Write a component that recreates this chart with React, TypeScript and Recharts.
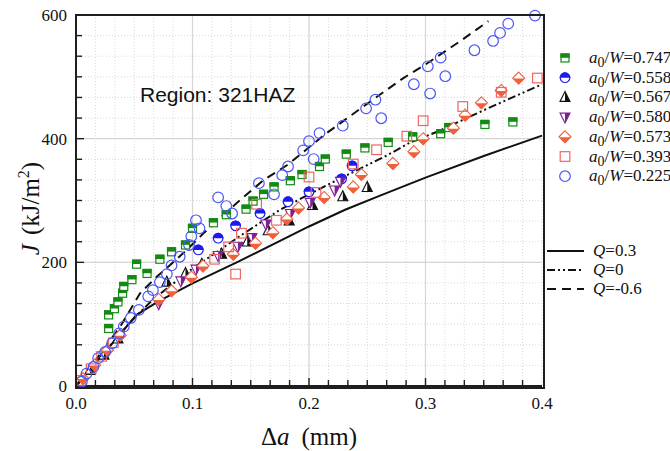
import React from "react"
import {
  ComposedChart,
  Scatter,
  Line,
  XAxis,
  YAxis,
  CartesianGrid,
  ReferenceLine,
  Legend,
  Label,
} from "recharts"

// measured points [Δa (mm), J (kJ/m2)]
const s747 = [[0.028,93],[0.028,115],[0.033,125],[0.036,136],[0.040,150],[0.041,161],[0.048,172],[0.052,197],[0.061,182],[0.072,205],[0.082,217],[0.094,228],[0.100,255],[0.118,264],[0.129,277],[0.146,286],[0.152,299],[0.161,310],[0.170,322],[0.184,332],[0.194,342],[0.209,355],[0.214,367],[0.232,375],[0.248,385],[0.268,394],[0.289,403],[0.313,408],[0.320,418],[0.351,423],[0.375,427]]
const s558 = [[0.105,220],[0.122,239],[0.137,259],[0.158,279],[0.182,298],[0.200,314],[0.228,335],[0.237,356]]
const s567 = [[0.012,25],[0.024,50],[0.036,76],[0.078,168],[0.094,182],[0.108,197],[0.125,213],[0.147,233],[0.165,251],[0.183,267],[0.203,292],[0.229,306],[0.250,321]]
const s580 = [[0.071,133],[0.090,170],[0.103,189],[0.122,211],[0.139,226],[0.151,240],[0.163,262],[0.184,279],[0.201,297],[0.222,317],[0.227,331]]
const s573 = [[0.006,12],[0.016,34],[0.027,58],[0.038,82],[0.071,140],[0.082,154],[0.099,176],[0.109,194],[0.135,213],[0.154,231],[0.169,248],[0.181,270],[0.191,288],[0.213,305],[0.238,322],[0.245,342],[0.272,360],[0.290,379],[0.298,400],[0.324,417],[0.334,438],[0.348,458],[0.365,478],[0.380,498]]
const s393 = [[0.004,9],[0.013,28],[0.022,48],[0.032,70],[0.119,205],[0.131,225],[0.137,181],[0.142,247],[0.155,294],[0.172,268],[0.200,338],[0.206,313],[0.238,359],[0.258,382],[0.284,404],[0.298,429],[0.332,452],[0.365,475],[0.396,498]]
const s225 = [[0.005,7],[0.009,20],[0.015,31],[0.019,45],[0.025,55],[0.031,69],[0.037,85],[0.041,96],[0.047,110],[0.054,123],[0.062,145],[0.066,155],[0.072,168],[0.078,181],[0.082,195],[0.089,209],[0.097,228],[0.099,242],[0.103,268],[0.106,255],[0.122,305],[0.129,291],[0.134,279],[0.157,328],[0.170,310],[0.177,341],[0.182,355],[0.195,381],[0.200,396],[0.204,367],[0.209,409],[0.229,421],[0.249,449],[0.257,463],[0.262,433],[0.290,488],[0.302,517],[0.304,473],[0.313,531],[0.317,501],[0.342,543],[0.358,558],[0.364,571],[0.371,586],[0.394,599]]

// model curves
const lineQ03 = [[0,0],[0.052,115],[0.07,136],[0.089,155],[0.1,166],[0.138,200],[0.2,258],[0.231,285],[0.261,308],[0.3,337],[0.35,372],[0.4,405]]
const lineQ0 = [[0,0],[0.045,100],[0.066,140],[0.1,190],[0.125,222],[0.138,239],[0.175,285],[0.2,310],[0.224,333],[0.268,374],[0.287,394],[0.311,412],[0.35,446],[0.4,488]]
const lineQm06 = [[0,0],[0.015,37],[0.038,96],[0.055,150],[0.07,178],[0.081,196],[0.095,220],[0.11,248],[0.124,272],[0.138,296],[0.161,333],[0.181,357],[0.195,378],[0.213,406],[0.232,432],[0.257,466],[0.281,498],[0.3,520],[0.33,558],[0.354,590]]

const xMajor = [0, 0.1, 0.2, 0.3, 0.4]
const yMajor = [0, 200, 400, 600]
const minorSteps = 6

const toPts = (arr: number[][]) => arr.map(([x, y]) => ({ x, y }))

const xTicks: number[] = []
for (let i = 0; i <= (xMajor.length - 1) * minorSteps; i++) xTicks.push(+(i * 0.1 / minorSteps).toFixed(5))
const yTicks: number[] = []
for (let i = 0; i <= (yMajor.length - 1) * minorSteps; i++) yTicks.push(+(i * 200 / minorSteps).toFixed(3))

const isMajorX = (v: number) => Math.abs(v * 10 - Math.round(v * 10)) < 1e-6
const isMajorY = (v: number) => Math.abs(v / 200 - Math.round(v / 200)) < 1e-6

// chart box
const W = 670
const H = 451
const M = { top: 15, right: 128, bottom: 15, left: 16 }
const Y_AXIS_W = 60
const X_AXIS_H = 50
const plot = {
  x: M.left + Y_AXIS_W,
  y: M.top,
  w: W - M.left - Y_AXIS_W - M.right,
  h: H - M.top - M.bottom - X_AXIS_H,
}

const serif = "'Liberation Serif', 'Times New Roman', serif"
const ink = "#1e1e1e"

const C = {
  green: "#138a13",
  blueHalf: "#1c1cf0",
  black: "#111",
  purple: "#7d2090",
  orange: "#f0603c",
  red: "#f06464",
  blue: "#4b57f2",
}

function drawMarker(kind: string, cx: number, cy: number) {
  switch (kind) {
    case "halfSquare":
      return (
        <g>
          <rect x={cx - 4} y={cy - 4} width={8} height={8} fill="#fff" stroke={C.green} strokeWidth={1.2} />
          <rect x={cx - 4.6} y={cy - 4.6} width={9.2} height={4.4} fill={C.green} />
        </g>
      )
    case "halfCircle":
      return (
        <g>
          <circle cx={cx} cy={cy} r={4.8} fill="#fff" stroke={C.blueHalf} strokeWidth={1.2} />
          <path d={`M${cx - 5.4},${cy} A5.4,5.4 0 0 1 ${cx + 5.4},${cy} Z`} fill={C.blueHalf} />
        </g>
      )
    case "triUp":
      return (
        <g>
          <polygon points={`${cx},${cy - 6} ${cx - 5},${cy + 4} ${cx + 5},${cy + 4}`} fill="#fff" stroke={C.black} strokeWidth={1.1} />
          <polygon points={`${cx},${cy - 6} ${cx + 5},${cy + 4} ${cx},${cy + 4}`} fill={C.black} />
        </g>
      )
    case "triDown":
      return (
        <g>
          <polygon points={`${cx - 5},${cy - 4} ${cx + 5},${cy - 4} ${cx},${cy + 6}`} fill="#fff" stroke={C.purple} strokeWidth={1.1} />
          <polygon points={`${cx},${cy - 4} ${cx + 5},${cy - 4} ${cx},${cy + 6}`} fill={C.purple} />
        </g>
      )
    case "diamond":
      return (
        <g>
          <polygon points={`${cx},${cy - 6} ${cx + 6},${cy} ${cx},${cy + 6} ${cx - 6},${cy}`} fill="#fff" stroke={C.orange} strokeWidth={1.1} />
          <polygon points={`${cx - 6},${cy + 0.5} ${cx + 6},${cy + 0.5} ${cx},${cy + 6.5}`} fill={C.orange} />
        </g>
      )
    case "square":
      return <rect x={cx - 4.8} y={cy - 4.8} width={9.6} height={9.6} fill="none" stroke={C.red} strokeWidth={1.2} />
    default:
      return <circle cx={cx} cy={cy} r={5.3} fill="none" stroke={C.blue} strokeWidth={1.2} />
  }
}

const shapeOf = (kind: string) => (p: any) => drawMarker(kind, p.cx, p.cy)

const scatterSeries = [
  { id: "0.747", data: s747, kind: "halfSquare" },
  { id: "0.558", data: s558, kind: "halfCircle" },
  { id: "0.567", data: s567, kind: "triUp" },
  { id: "0.580", data: s580, kind: "triDown" },
  { id: "0.573", data: s573, kind: "diamond" },
  { id: "0.393", data: s393, kind: "square" },
  { id: "0.225", data: s225, kind: "circle" },
]

const lineSeries = [
  { id: "0.3", data: lineQ03, dash: undefined },
  { id: "0", data: lineQ0, dash: "8 3 2 3 2 3" },
  { id: "-0.6", data: lineQm06, dash: "9 6" },
]

function XTick(props: any) {
  const { x, y, payload } = props
  const v = payload.value
  if (!isMajorX(v)) return <g />
  return (
    <text x={x} y={y} dy="0.72em" textAnchor="middle" fontFamily={serif} fontSize={17} fill="#111">
      {v.toFixed(1)}
    </text>
  )
}

function YTick(props: any) {
  const { x, y, payload } = props
  const v = payload.value
  if (!isMajorY(v)) return <g />
  return (
    <text x={x} y={y} dy="0.35em" textAnchor="end" fontFamily={serif} fontSize={17} fill="#111">
      {v}
    </text>
  )
}

function YTitle(props: any) {
  const { viewBox } = props
  const cx = viewBox.x + 23
  const cy = viewBox.y + viewBox.height / 2 + 8
  return (
    <text x={cx} y={cy} transform={`rotate(-90, ${cx}, ${cy})`} textAnchor="middle" fontFamily={serif} fontSize={25} fill="#111">
      <tspan fontStyle="italic">J</tspan>
      <tspan dx={9}>(kJ/m</tspan>
      <tspan dy={-10} fontSize={16}>2</tspan>
      <tspan dy={10}>)</tspan>
    </text>
  )
}

function XTitle(props: any) {
  const { viewBox } = props
  const cx = viewBox.x + viewBox.width / 2
  return (
    <text x={cx} y={viewBox.y + 59} textAnchor="middle" fontFamily={serif} fontSize={25} fill="#111">
      <tspan>Δ</tspan>
      <tspan fontStyle="italic">a</tspan>
      <tspan dx={12}>(mm)</tspan>
    </text>
  )
}

function LegendBox() {
  return (
    <svg width={125} height={270} style={{ display: "block" }}>
      {scatterSeries.map((s, i) => {
        const y = 18 + i * 19.7
        return (
          <g key={s.id}>
            {drawMarker(s.kind, 20, y)}
            <text x={44} y={y + 5} fontFamily={serif} fontSize={17} fill="#111">
              <tspan fontStyle="italic">a</tspan>
              <tspan fontSize={14} dy={4}>0</tspan>
              <tspan dy={-4}>/</tspan>
              <tspan fontStyle="italic">W</tspan>
              <tspan>={s.id}</tspan>
            </text>
          </g>
        )
      })}
      {lineSeries.map((l, i) => {
        const y = 211 + i * 19
        return (
          <g key={l.id}>
            <line x1={2} x2={39} y1={y} y2={y} stroke="#111" strokeWidth={2} strokeDasharray={l.dash} />
            <text x={48} y={y + 5} fontFamily={serif} fontSize={17} fill="#111">
              <tspan fontStyle="italic">Q</tspan>
              <tspan>={l.id}</tspan>
            </text>
          </g>
        )
      })}
    </svg>
  )
}

// inward tick marks, laid over the plot box
function TickMarks() {
  const px = (v: number) => plot.x + (v / 0.4) * plot.w
  const py = (v: number) => plot.y + plot.h - (v / 600) * plot.h
  return (
    <svg width={W} height={H} style={{ position: "absolute", left: 0, top: 0, pointerEvents: "none", zIndex: 4 }}>
      {xTicks.filter((v) => v > 0 && v < 0.4).map((v) => (
        <path key={"x" + v} d={`M${px(v)},${plot.y + plot.h} v${-(isMajorX(v) ? 8 : 6)}`} stroke={ink} strokeWidth={1.4} fill="none" />
      ))}
      {yTicks.filter((v) => v > 0 && v < 600).map((v) => (
        <path key={"y" + v} d={`M${plot.x},${py(v)} h${isMajorY(v) ? 8 : 6}`} stroke={ink} strokeWidth={1.4} fill="none" />
      ))}
    </svg>
  )
}

export default function App() {
  return (
    <div style={{ position: "absolute", left: 0, top: 0, width: W, height: H, background: "#fff" }}>
      <ComposedChart width={W} height={H} margin={M}>
        <CartesianGrid stroke="#dadada" strokeDasharray="1 2" />
        <XAxis
          type="number"
          dataKey="x"
          domain={[0, 0.4]}
          ticks={xTicks}
          interval={0}
          height={X_AXIS_H}
          tickSize={0}
          tickMargin={11}
          tickLine={false}
          axisLine={{ stroke: ink, strokeWidth: 2 }}
          tick={(p: any) => <XTick {...p} />}
        >
          <Label content={(p: any) => <XTitle {...p} />} />
        </XAxis>
        <YAxis
          type="number"
          dataKey="y"
          domain={[0, 600]}
          ticks={yTicks}
          interval={0}
          width={Y_AXIS_W}
          tickSize={0}
          tickMargin={9}
          tickLine={false}
          axisLine={{ stroke: ink, strokeWidth: 2 }}
          tick={(p: any) => <YTick {...p} />}
        >
          <Label content={(p: any) => <YTitle {...p} />} />
        </YAxis>
        {xMajor.slice(1, -1).map((v) => (
          <ReferenceLine key={"vx" + v} x={v} stroke="#d6d6d6" strokeWidth={1.2} />
        ))}
        {yMajor.slice(1, -1).map((v) => (
          <ReferenceLine key={"hy" + v} y={v} stroke="#d6d6d6" strokeWidth={1.2} />
        ))}
        {scatterSeries.map((s) => (
          <Scatter key={s.id} data={toPts(s.data)} shape={shapeOf(s.kind)} isAnimationActive={false} />
        ))}
        {lineSeries.map((l) => (
          <Line
            key={l.id}
            data={toPts(l.data)}
            dataKey="y"
            type="linear"
            stroke="#111"
            strokeWidth={2}
            strokeDasharray={l.dash}
            dot={false}
            activeDot={false}
            isAnimationActive={false}
          />
        ))}
        <Legend
          layout="vertical"
          align="center"
          verticalAlign="middle"
          content={() => <LegendBox />}
          wrapperStyle={{ left: 545, top: 40, width: 125, height: 270 }}
        />
      </ComposedChart>
      <TickMarks />
      {/* plot frame */}
      <div
        style={{
          position: "absolute",
          left: plot.x - 1,
          top: plot.y - 1,
          width: plot.w,
          height: plot.h,
          border: `2px solid ${ink}`,
          pointerEvents: "none",
          zIndex: 5,
        }}
      />
      <div
        style={{
          position: "absolute",
          left: 140,
          top: 84,
          fontFamily: "'Liberation Sans', Arial, sans-serif",
          fontSize: 21,
          lineHeight: 1,
          color: "#111",
          whiteSpace: "nowrap",
        }}
      >
        Region: 321HAZ
      </div>
    </div>
  )
}
